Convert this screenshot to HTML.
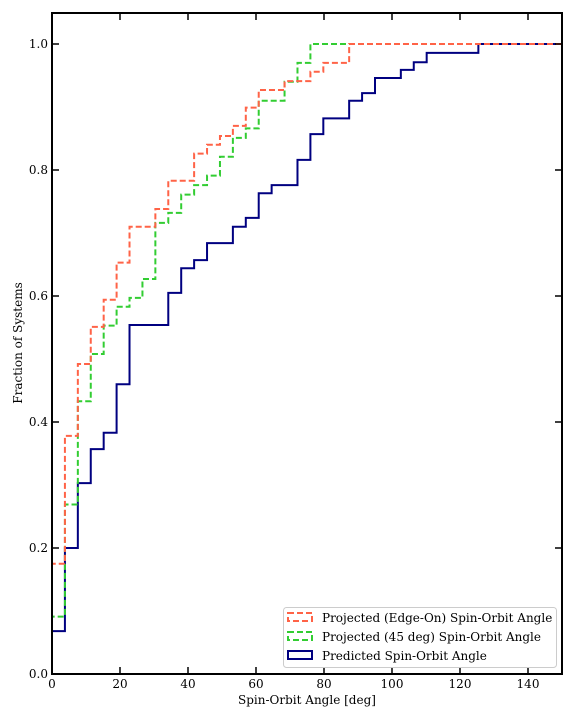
<!DOCTYPE html>
<html><head><meta charset="utf-8"><style>
html,body{margin:0;padding:0;background:#fff;}
svg{display:block;font-family:"DejaVu Serif","Liberation Serif",serif;}
</style></head><body>
<svg id="chart" width="576" height="720" viewBox="0 0 576 720">
<rect x="0" y="0" width="576" height="720" fill="#fff"/>
<defs><clipPath id="plotclip"><rect x="52" y="13" width="510" height="661"/></clipPath></defs>
<g id="series" clip-path="url(#plotclip)"></g>
<rect x="52" y="13" width="510" height="661" fill="none" stroke="#000" stroke-width="2"/>
<g id="ticks"></g>
<text x="307" y="704" text-anchor="middle" font-size="12">Spin-Orbit Angle [deg]</text>
<text x="22" y="343" text-anchor="middle" font-size="12" transform="rotate(-90 22 343)">Fraction of Systems</text>
<g>
<rect x="283.5" y="607.5" width="273" height="60" rx="3" fill="#fff" stroke="#ccc" stroke-width="1"/>
<rect x="288" y="613" width="24" height="8" fill="none" stroke="#ff6347" stroke-width="2" stroke-dasharray="6,3"/>
<text x="322" y="622" font-size="12">Projected (Edge-On) Spin-Orbit Angle</text>
<rect x="288" y="632" width="24" height="8" fill="none" stroke="#32cd32" stroke-width="2" stroke-dasharray="6,3"/>
<text x="322" y="641" font-size="12">Projected (45 deg) Spin-Orbit Angle</text>
<rect x="288" y="651" width="24" height="8" fill="none" stroke="#000080" stroke-width="2"/>
<text x="322" y="660" font-size="12">Predicted Spin-Orbit Angle</text>
</g>
</svg>
<script>
const binWidth = 3.8;
const edgeOn = [0.175,0.378,0.492,0.551,0.594,0.653,0.71,0.71,0.738,0.783,0.783,0.826,0.840,0.854,0.870,0.899,0.927,0.927,0.941,0.941,0.956,0.970,0.970,1,1,1,1,1,1,1,1,1,1,1,1,1,1,1,1,1];
const deg45 = [0.091,0.269,0.433,0.508,0.553,0.583,0.597,0.627,0.716,0.732,0.761,0.776,0.791,0.821,0.851,0.866,0.91,0.91,0.940,0.970,1,1,1,1,1,1,1,1,1,1,1,1,1,1,1,1,1,1,1,1];
const predicted = [0.068,0.2,0.303,0.357,0.383,0.46,0.554,0.554,0.554,0.605,0.644,0.657,0.684,0.684,0.71,0.724,0.763,0.776,0.776,0.816,0.857,0.882,0.882,0.91,0.922,0.946,0.946,0.959,0.971,0.986,0.986,0.986,0.986,1,1,1,1,1,1,1];
const xTicks = [0,20,40,60,80,100,120,140];
const yTicks = [0,0.2,0.4,0.6,0.8,1.0];
const yTickLabels = ["0.0","0.2","0.4","0.6","0.8","1.0"];

const X0=52,X1=562,Y0=674,Y1=44;
const sx = v => X0 + v/150*(X1-X0);
const sy = v => Y0 - v*(Y0-Y1);
const NS='http://www.w3.org/2000/svg';
const series = document.getElementById('series');
function stepPath(vals){
  let d = 'M'+sx(0)+','+sy(0);
  vals.forEach((v,i)=>{ d += ' L'+sx(i*binWidth)+','+sy(v)+' L'+sx((i+1)*binWidth)+','+sy(v); });
  d += ' L'+sx(vals.length*binWidth)+','+sy(0);
  return d;
}
function addSeries(vals,color,dash,name){
  const p=document.createElementNS(NS,'path');
  p.setAttribute('d',stepPath(vals));
  p.setAttribute('fill','none');
  p.setAttribute('stroke',color);
  p.setAttribute('stroke-width','2');
  if(dash) p.setAttribute('stroke-dasharray',dash);
  
  
  series.appendChild(p);
}
addSeries(predicted,'#000080',null,'predicted-line');
addSeries(deg45,'#32cd32','6,3','projected-45deg-line');
addSeries(edgeOn,'#ff6347','6,3','projected-edge-on-line');

const ticks=document.getElementById('ticks');
function line(x1,y1,x2,y2,name){
  const l=document.createElementNS(NS,'line');
  l.setAttribute('x1',x1);l.setAttribute('y1',y1);l.setAttribute('x2',x2);l.setAttribute('y2',y2);
  l.setAttribute('stroke','#000');l.setAttribute('stroke-width','1.5');
  
  
  ticks.appendChild(l);
}
function text(x,y,s,anchor,name){
  const t=document.createElementNS(NS,'text');
  t.setAttribute('x',x);t.setAttribute('y',y);t.setAttribute('text-anchor',anchor);t.setAttribute('font-size','12');
  t.textContent=s;
  
  
  ticks.appendChild(t);
}
xTicks.forEach(v=>{
  const x=sx(v);
  line(x,674,x,667,'x-tick');
  line(x,13,x,20,'x-tick-top');
  text(x,688,String(v),'middle','x-tick-label');
});
yTicks.forEach((v,i)=>{
  const y=sy(v);
  line(52,y,59,y,'y-tick');
  line(562,y,555,y,'y-tick-right');
  text(48,y+4,yTickLabels[i],'end','y-tick-label');
});
</script>
</body></html>
